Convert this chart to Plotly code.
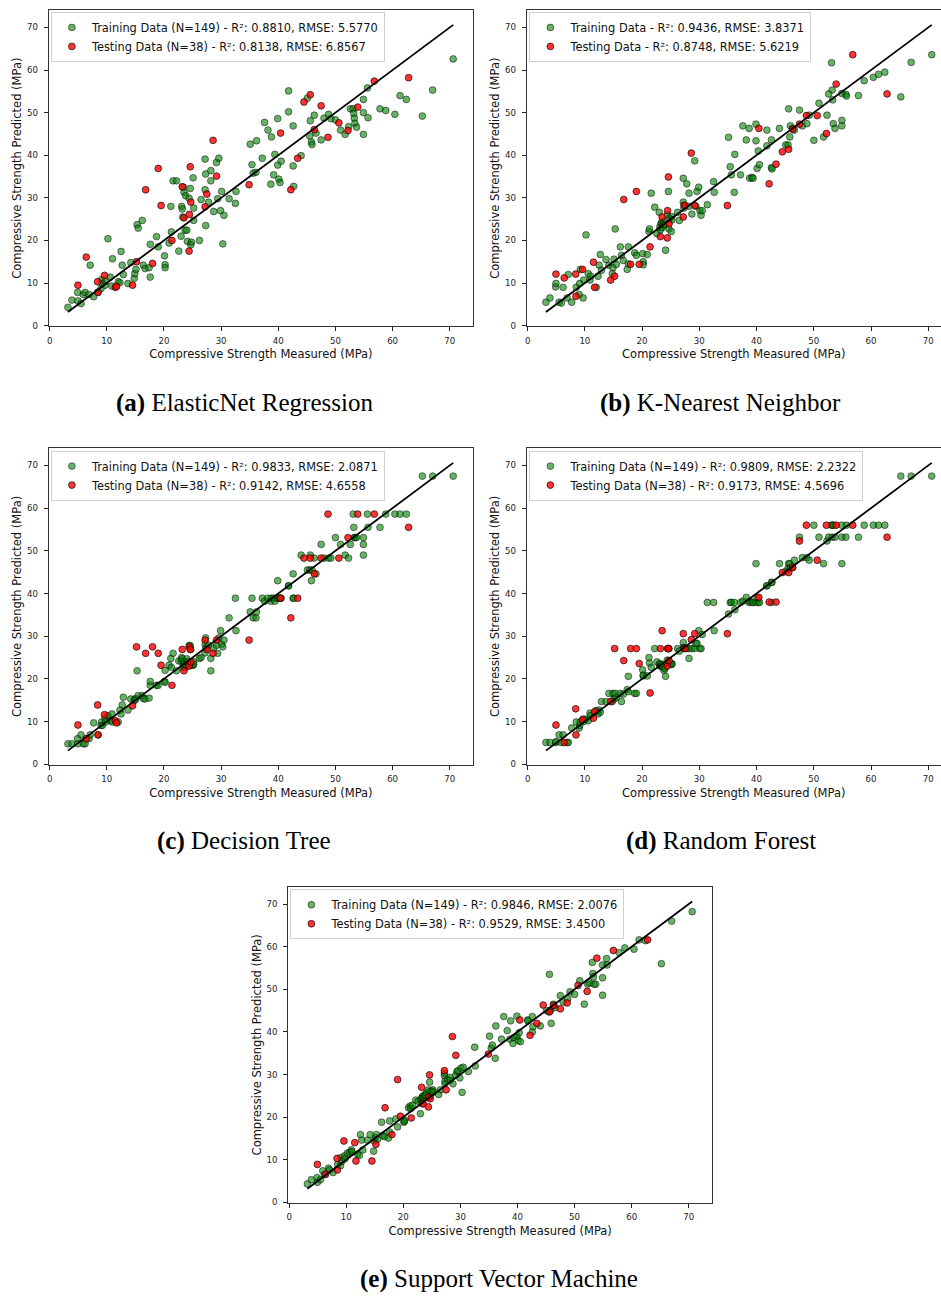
import plotly.graph_objects as go

# ---------------- data ----------------
train_measured = [3.2, 3.9, 4.9, 4.95, 5.5, 5.9, 6.2, 6.9, 7.1, 7.7,
                  8.5, 9.0, 9.1, 9.2, 9.7, 9.8, 10.2, 10.6, 10.9, 11.0,
                  12.0, 12.3, 12.5, 12.7, 12.9, 13.7, 14.2, 14.8, 14.9, 15.1,
                  15.3, 15.5, 16.2, 16.4, 16.7, 17.4, 17.6, 17.6, 18.7, 19.0,
                  20.1, 20.2, 20.2, 20.9, 21.2, 21.3, 21.6, 22.2, 22.6, 23.0,
                  23.1, 23.2, 23.3, 23.4, 23.5, 23.7, 23.8, 24.0, 24.1, 24.4,
                  24.6, 24.7, 24.8, 25.1, 25.2, 25.2, 26.2, 26.5, 27.2, 27.2,
                  27.3, 27.3, 27.8, 28.2, 28.2, 28.7, 29.2, 29.4, 29.6, 29.9,
                  30.1, 30.3, 30.5, 31.4, 32.5, 32.6, 35.1, 35.4, 35.6, 36.1,
                  36.2, 37.2, 37.6, 38.2, 38.7, 38.8, 39.2, 39.4, 39.9, 39.9,
                  40.1, 40.3, 40.5, 41.8, 41.8, 42.6, 42.6, 42.7, 44.0, 45.1,
                  45.5, 45.6, 45.8, 45.9, 46.3, 46.6, 47.5, 48.0, 48.8, 49.2,
                  50.0, 50.9, 51.7, 52.3, 52.6, 53.1, 53.2, 53.3, 53.4, 53.7,
                  54.9, 54.9, 54.9, 55.6, 55.7, 57.8, 58.8, 60.4, 61.3, 62.4,
                  65.2, 67.0, 70.6]

test_measured = [4.95, 6.4, 8.4, 8.45, 9.6, 11.5, 11.7, 14.5, 15.2, 16.8,
                 18.0, 19.0, 19.5, 21.4, 23.2, 23.5, 24.4, 24.45, 24.6, 24.7,
                 27.2, 27.5, 28.6, 29.2, 34.9, 40.4, 42.2, 43.4, 44.5, 45.6,
                 46.3, 47.5, 48.7, 50.6, 52.2, 53.9, 56.8, 62.8]

en_train_pred = [4.3, 6.0, 7.8, 5.8, 5.2, 7.3, 7.8, 7.3, 14.2, 6.8,
                 7.9, 8.7, 10.8, 9.9, 9.5, 10.4, 20.4, 11.4, 9.3, 15.7,
                 10.3, 10.1, 17.4, 14.2, 12.0, 9.9, 14.8, 11.1, 12.2, 13.2,
                 23.7, 22.9, 24.7, 14.2, 13.4, 13.6, 11.4, 19.1, 20.9, 18.5,
                 16.4, 14.3, 13.6, 19.4, 28.0, 22.0, 34.0, 34.0, 17.5, 21.0,
                 28.0, 27.4, 25.5, 32.5, 31.3, 22.4, 30.5, 22.4, 19.8, 29.9,
                 32.2, 19.0, 19.6, 34.7, 27.6, 24.7, 20.0, 29.6, 39.1, 31.9,
                 35.6, 23.5, 29.0, 36.4, 34.0, 26.8, 38.3, 29.8, 39.3, 27.0,
                 31.5, 19.2, 25.9, 29.8, 28.7, 31.5, 42.6, 37.8, 35.8, 36.0,
                 43.4, 39.3, 47.7, 45.9, 33.2, 44.3, 35.4, 40.2, 48.6, 37.7,
                 34.4, 33.6, 38.6, 55.1, 50.2, 37.5, 46.9, 32.7, 39.9, 53.4,
                 44.5, 48.1, 43.1, 42.5, 49.4, 45.2, 43.6, 48.7, 49.6, 48.6,
                 48.3, 45.9, 44.9, 46.7, 50.9, 50.9, 49.8, 48.7, 47.5, 46.6,
                 53.1, 50.0, 44.9, 55.8, 48.8, 50.9, 50.5, 49.6, 54.0, 53.1,
                 49.2, 55.3, 62.6]
en_test_pred = [9.5, 16.1, 10.3, 7.8, 11.8, 9.0, 9.2, 9.5, 15.0, 31.9,
                14.6, 36.9, 28.2, 20.0, 32.6, 25.3, 17.5, 26.1, 37.3, 29.0,
                27.9, 30.9, 43.5, 35.1, 33.1, 45.2, 31.9, 39.3, 52.5, 54.2,
                46.0, 51.6, 44.2, 47.6, 45.8, 51.3, 57.4, 58.2]

knn_train_pred = [5.5, 6.5, 9.1, 9.9, 5.5, 5.3, 9.0, 6.5, 12.0, 5.5,
                  9.0, 7.3, 9.9, 13.2, 6.5, 10.7, 21.3, 12.2, 10.7, 11.6,
                  9.0, 11.6, 14.2, 16.7, 13.0, 15.5, 14.2, 12.2, 13.6, 15.6,
                  22.7, 14.4, 18.5, 16.5, 15.3, 13.2, 18.5, 14.5, 17.1, 16.5,
                  16.9, 15.0, 14.3, 16.7, 22.1, 22.7, 31.1, 27.8, 21.6, 26.6,
                  23.2, 22.5, 23.9, 24.2, 23.0, 24.5, 23.7, 23.7, 17.7, 26.0,
                  31.5, 22.7, 25.2, 22.1, 25.6, 24.8, 26.6, 24.7, 34.6, 29.0,
                  27.6, 28.3, 33.3, 31.1, 28.0, 26.2, 38.7, 28.0, 31.5, 32.5,
                  27.0, 25.9, 27.0, 28.4, 33.8, 31.3, 44.2, 37.3, 35.4, 31.3,
                  40.2, 35.4, 46.9, 43.6, 46.3, 34.6, 34.8, 34.6, 47.3, 43.4,
                  36.9, 41.0, 37.8, 45.9, 42.2, 37.1, 43.6, 36.8, 46.3, 42.4,
                  42.4, 50.9, 44.3, 46.9, 46.3, 45.9, 50.6, 46.9, 47.4, 49.4,
                  43.5, 52.2, 44.3, 49.4, 54.4, 61.7, 55.3, 53.0, 47.4, 46.3,
                  48.2, 54.5, 46.9, 54.3, 53.9, 54.0, 57.5, 58.3, 59.0, 59.5,
                  53.7, 61.8, 63.6]
knn_test_pred = [12.1, 11.2, 12.1, 6.9, 13.2, 14.9, 9.0, 10.7, 11.6, 29.6,
                 14.4, 31.5, 14.4, 18.5, 20.9, 25.5, 20.6, 27.0, 34.9, 23.9,
                 25.5, 28.2, 40.5, 28.2, 28.2, 46.3, 33.3, 37.9, 40.8, 41.4,
                 46.1, 47.3, 49.3, 49.3, 45.1, 56.7, 63.6, 54.4]

dt_train_pred = [4.8, 4.8, 6.0, 4.8, 6.9, 4.8, 4.8, 6.0, 6.9, 9.7,
                 6.9, 9.1, 9.9, 9.1, 10.8, 9.9, 11.4, 10.2, 11.8, 9.9,
                 9.9, 12.7, 11.8, 13.9, 15.7, 12.7, 15.3, 14.9, 15.3, 15.3,
                 21.9, 16.1, 16.1, 15.4, 15.3, 15.5, 18.5, 19.4, 18.5, 18.5,
                 19.4, 19.2, 22.0, 23.2, 24.8, 22.7, 26.0, 21.9, 24.2, 24.2,
                 25.0, 24.7, 22.7, 23.4, 24.0, 22.7, 23.4, 24.7, 24.0, 27.8,
                 27.8, 26.9, 23.2, 23.2, 24.0, 23.4, 24.8, 25.0, 26.1, 28.1,
                 27.2, 29.6, 27.9, 21.9, 24.8, 27.2, 27.9, 26.0, 29.6, 31.3,
                 28.1, 27.5, 29.1, 34.3, 38.9, 31.3, 35.7, 38.9, 34.3, 34.3,
                 35.7, 38.9, 38.2, 38.9, 38.2, 38.9, 38.9, 38.2, 43.0, 38.9,
                 38.9, 38.9, 38.9, 41.8, 41.8, 38.9, 44.6, 38.9, 49.0, 45.5,
                 45.5, 49.0, 43.0, 45.5, 48.3, 44.6, 51.5, 48.3, 48.3, 48.3,
                 53.1, 51.5, 49.0, 48.3, 51.5, 58.6, 55.5, 53.1, 53.1, 53.1,
                 53.1, 51.5, 49.0, 58.6, 55.5, 55.5, 58.6, 58.6, 58.6, 58.6,
                 67.5, 67.5, 67.5]
dt_test_pred = [9.2, 6.0, 13.9, 6.9, 11.6, 10.2, 9.7, 13.7, 27.5, 26.0,
                27.5, 26.0, 23.2, 18.5, 26.9, 21.9, 23.0, 27.5, 26.9, 24.0,
                29.1, 26.9, 26.0, 29.1, 29.1, 38.9, 34.3, 38.9, 48.3, 48.3,
                44.6, 48.3, 58.6, 48.3, 53.1, 58.6, 58.6, 55.5]

rf_train_pred = [5.1, 5.1, 5.1, 5.3, 6.9, 5.1, 6.9, 5.1, 5.1, 8.5,
                 9.9, 8.5, 9.1, 9.9, 10.6, 10.0, 10.6, 10.2, 12.0, 11.4,
                 12.6, 11.8, 12.7, 12.2, 14.7, 14.7, 16.6, 14.7, 16.6, 15.3,
                 16.6, 15.6, 16.6, 14.7, 16.4, 17.5, 20.6, 17.0, 16.6, 16.6,
                 22.1, 20.7, 20.9, 20.7, 25.0, 23.7, 22.7, 27.1, 24.0, 23.4,
                 23.6, 23.0, 23.0, 23.0, 23.4, 22.7, 22.0, 22.4, 20.6, 24.4,
                 27.1, 27.1, 23.6, 23.4, 23.6, 23.4, 27.1, 26.5, 28.5, 27.3,
                 27.3, 27.1, 27.1, 24.8, 27.1, 27.1, 27.1, 28.3, 28.3, 31.3,
                 27.1, 27.1, 30.4, 37.9, 37.9, 31.3, 35.2, 37.9, 37.9, 37.9,
                 36.2, 37.9, 38.2, 39.1, 37.9, 38.2, 37.9, 37.9, 47.0, 37.9,
                 38.9, 37.9, 37.9, 41.8, 41.8, 42.6, 37.9, 42.6, 47.0, 45.2,
                 45.9, 47.0, 47.0, 45.9, 46.1, 47.8, 53.2, 48.4, 48.4, 47.8,
                 56.0, 53.2, 47.0, 52.3, 53.2, 56.0, 53.2, 56.0, 56.0, 53.2,
                 56.0, 53.2, 47.0, 53.2, 56.0, 53.2, 56.0, 56.0, 56.0, 56.0,
                 67.5, 67.5, 67.5]
rf_test_pred = [9.2, 5.1, 13.0, 6.9, 10.4, 10.8, 12.3, 14.7, 27.1, 24.3,
                27.1, 27.1, 23.6, 16.7, 27.1, 31.3, 23.0, 27.1, 27.1, 24.3,
                30.6, 27.1, 29.2, 30.6, 30.6, 39.1, 38.0, 38.0, 44.9, 44.9,
                46.1, 52.3, 56.0, 47.8, 56.0, 56.0, 56.0, 53.2]

svm_train_pred = [4.3, 5.3, 5.8, 4.7, 5.3, 7.4, 6.5, 8.0, 7.6, 7.0,
                  8.9, 8.6, 10.5, 9.6, 10.9, 10.2, 11.5, 11.8, 12.3, 11.9,
                  11.3, 11.0, 15.9, 14.6, 12.3, 14.6, 15.9, 12.0, 14.4, 15.2,
                  15.9, 14.8, 18.8, 15.7, 15.4, 15.1, 16.5, 19.1, 19.6, 17.7,
                  18.8, 19.3, 19.0, 22.2, 22.6, 22.0, 22.8, 24.0, 23.7, 20.8,
                  24.0, 24.5, 23.2, 24.9, 24.6, 25.0, 25.3, 25.0, 25.7, 26.4,
                  28.2, 24.8, 26.1, 26.1, 26.4, 25.8, 25.3, 26.4, 29.7, 30.3,
                  28.4, 27.8, 28.8, 29.3, 28.6, 27.8, 29.9, 30.7, 30.9, 29.2,
                  31.5, 25.8, 31.7, 30.7, 36.4, 32.0, 39.0, 36.2, 36.9, 33.8,
                  41.4, 38.3, 43.6, 40.3, 38.3, 42.6, 37.3, 38.7, 43.7, 39.0,
                  38.0, 39.8, 37.7, 42.8, 42.6, 40.0, 43.6, 41.2, 41.4, 45.0,
                  44.7, 53.5, 45.1, 42.0, 46.5, 45.7, 48.5, 47.0, 47.8, 49.4,
                  48.8, 52.0, 46.5, 51.2, 51.5, 56.3, 53.7, 52.9, 51.2, 51.2,
                  52.7, 55.7, 48.6, 57.2, 55.7, 58.6, 59.7, 59.4, 61.6, 61.4,
                  56.0, 66.0, 68.2]
svm_test_pred = [8.9, 6.6, 10.3, 7.6, 14.4, 14.0, 9.7, 9.7, 13.6, 22.2,
                 15.9, 28.8, 20.2, 19.8, 27.0, 23.1, 22.4, 24.7, 29.9, 24.3,
                 30.9, 26.4, 38.9, 34.5, 34.8, 42.8, 39.2, 42.0, 46.3, 44.7,
                 46.2, 45.4, 46.8, 50.9, 49.5, 57.3, 59.1, 61.6]

captions = ["<b>(a)</b> ElasticNet Regression", "<b>(b)</b> K-Nearest Neighbor",
            "<b>(c)</b> Decision Tree", "<b>(d)</b> Random Forest",
            "<b>(e)</b> Support Vector Machine"]
train_labels = ["Training Data (N=149) - R²: 0.8810, RMSE: 5.5770",
                "Training Data - R²: 0.9436, RMSE: 3.8371",
                "Training Data (N=149) - R²: 0.9833, RMSE: 2.0871",
                "Training Data (N=149) - R²: 0.9809, RMSE: 2.2322",
                "Training Data (N=149) - R²: 0.9846, RMSE: 2.0076"]
test_labels = ["Testing Data (N=38) - R²: 0.8138, RMSE: 6.8567",
               "Testing Data - R²: 0.8748, RMSE: 5.6219",
               "Testing Data (N=38) - R²: 0.9142, RMSE: 4.6558",
               "Testing Data (N=38) - R²: 0.9173, RMSE: 4.5696",
               "Testing Data (N=38) - R²: 0.9529, RMSE: 3.4500"]
train_preds = [en_train_pred, knn_train_pred, dt_train_pred, rf_train_pred, svm_train_pred]
test_preds = [en_test_pred, knn_test_pred, dt_test_pred, rf_test_pred, svm_test_pred]
tick_vals = [0, 10, 20, 30, 40, 50, 60, 70]

# ---------------- layout geometry (pixels) ----------------
W, H = 941, 1297
# (left, right, top, bottom, xmax, right-spine visible)
panels = [(46.7, 472.2, 10.0, 327.3, 74.1, True),
          (525.7, 941.0, 10.0, 327.3, 72.22, False),
          (46.7, 472.2, 449.3, 767.3, 74.1, True),
          (525.7, 941.0, 449.3, 767.3, 72.22, False),
          (286.7, 711.7, 889.3, 1206.7, 74.1, True)]
legend_pos = [(49.0, 12.0), (528.5, 12.0), (49.0, 452.0), (528.5, 452.0), (289.0, 892.0)]
caption_pos = [(243, 404), (720, 404), (243, 844), (721, 844), (498, 1283)]

TICK_FONT = dict(family="DejaVu Sans", size=8.6, color="#222")
TITLE_FONT = dict(family="DejaVu Sans", size=11.5, color="#111")

fig = go.Figure()
layout = dict(width=W, height=H, autosize=False,
              margin=dict(l=0, r=0, t=0, b=0),
              paper_bgcolor="white", plot_bgcolor="white",
              showlegend=True, annotations=[])

line_lo = min(train_measured + test_measured)
line_hi = max(train_measured + test_measured)

for i, (l, r, t, b, xmax, rspine) in enumerate(panels):
    n = "" if i == 0 else str(i + 1)
    xa, ya = "x" + n, "y" + n
    leg = "legend" + n
    fig.add_trace(go.Scatter(
        x=train_measured, y=train_preds[i], mode="markers", name=train_labels[i],
        xaxis=xa, yaxis=ya, legend=leg,
        marker=dict(size=6.8, color="rgba(0,128,0,0.6)",
                    line=dict(color="rgba(0,0,0,0.6)", width=0.8))))
    fig.add_trace(go.Scatter(
        x=test_measured, y=test_preds[i], mode="markers", name=test_labels[i],
        xaxis=xa, yaxis=ya, legend=leg,
        marker=dict(size=6.8, color="rgba(255,0,0,0.8)",
                    line=dict(color="rgba(0,0,0,0.8)", width=0.8))))
    fig.add_trace(go.Scatter(
        x=[line_lo, line_hi], y=[line_lo, line_hi], mode="lines",
        xaxis=xa, yaxis=ya, showlegend=False,
        line=dict(color="black", width=1.8)))

    common = dict(tickvals=tick_vals, ticks="outside", ticklen=4, tickwidth=0.8,
                  tickcolor="#222", tickfont=TICK_FONT, showgrid=False, zeroline=False,
                  showline=True, linecolor="#333", linewidth=0.9)
    layout["xaxis" + n] = dict(
        domain=[l / W, r / W], range=[-0.18, xmax], anchor=ya, mirror=True,
        ticklabelstandoff=2,
        title=dict(text="Compressive Strength Measured (MPa)", font=TITLE_FONT, standoff=5),
        **common)
    layout["yaxis" + n] = dict(
        domain=[1 - b / H, 1 - t / H], range=[-0.15, 74.1], anchor=xa, mirror=rspine,
        ticklabelstandoff=4,
        title=dict(text="Compressive Strength Predicted (MPa)", font=TITLE_FONT, standoff=2),
        **common)
    lx, ly = legend_pos[i]
    layout[leg] = dict(x=lx / W, y=1 - ly / H, xanchor="left", yanchor="top",
                       xref="paper", yref="paper",
                       bgcolor="rgba(255,255,255,0.8)", bordercolor="#d0d0d0", borderwidth=1,
                       font=dict(family="DejaVu Sans", size=11.4, color="#111"),
                       itemwidth=30, tracegroupgap=0)
    cx, cy = caption_pos[i]
    layout["annotations"].append(dict(
        text=captions[i], x=cx / W, y=1 - cy / H, xref="paper", yref="paper",
        xanchor="center", yanchor="middle", showarrow=False,
        font=dict(family="Liberation Serif", size=25, color="black")))

fig.update_layout(**layout)
fig.write_html("out.html", config={"displayModeBar": False},
               post_script="document.body.style.margin='0px';document.body.style.overflow='hidden';")
